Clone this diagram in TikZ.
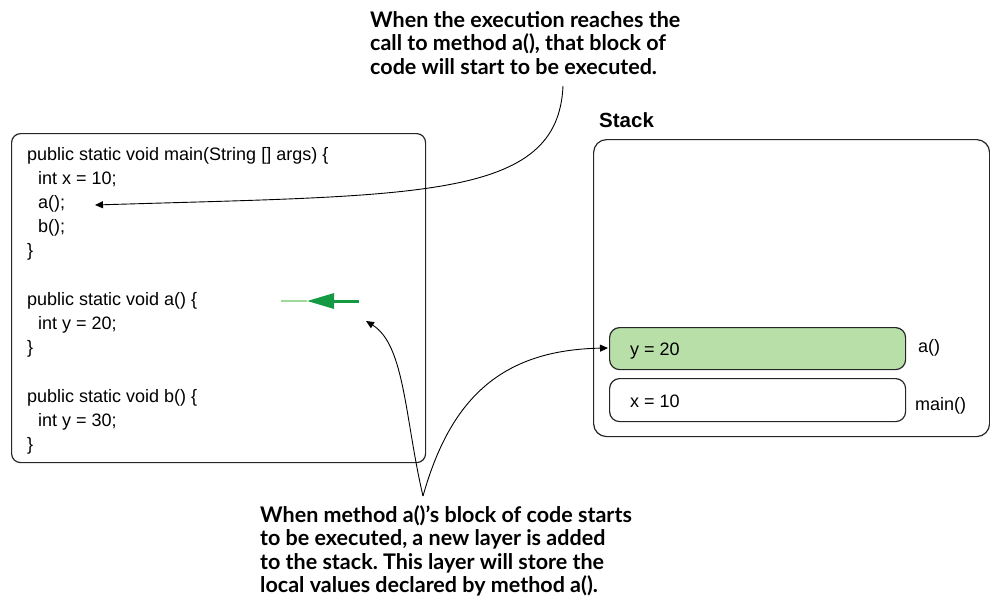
\documentclass[tikz,border=0pt]{standalone}
\usepackage{fontspec}
\setmainfont{Liberation Sans}
\newfontfamily\notefont{Lato}
\usetikzlibrary{arrows.meta}
\definecolor{boxgreen}{HTML}{B9DFA9}
\definecolor{darkgreen}{HTML}{139A43}
\definecolor{palegreen}{HTML}{9ED89B}
\frenchspacing
\tikzset{
  codeline/.style={anchor=base west, inner sep=0pt, font=\fontsize{18}{22}\selectfont},
  noteline/.style={anchor=base west, inner sep=0pt, font=\notefont\bfseries\fontsize{21.5}{25}\selectfont},
  frame/.style={draw=black!85, line width=1.2pt, rounded corners=9pt},
  layer/.style={draw=black!85, line width=1.2pt, rounded corners=10pt},
  conn/.style={draw=black, line width=0.9pt, -{Triangle[length=8pt,width=7pt]}},
}
\begin{document}
\begin{tikzpicture}[x=1pt,y=-1pt]
\useasboundingbox (0,0) rectangle (990,606);
% code box
\node[frame, minimum width=414pt, minimum height=329pt, anchor=north west, inner sep=0pt] (code) at (11,133) {};
\foreach \i/\x/\y/\t in {1/27/160/{public static void main(String [] args) \{},
  2/38/184/{int x = 10;}, 3/38/208/{a();}, 4/38/232/{b();}, 5/27/256/{\}},
  6/27/305/{public static void a() \{}, 7/38/329/{int y = 20;}, 8/27/353/{\}},
  9/27/402/{public static void b() \{}, 10/38/426/{int y = 30;}, 11/27/450/{\}}}
  \node[codeline] (l\i) at (\x,\y) {\t};
% stack
\node[anchor=base west, inner sep=0pt, font=\bfseries\fontsize{20.5}{24}\selectfont] (stacklabel) at (599,127) {Stack};
\node[frame, rounded corners=13pt, minimum width=396pt, minimum height=297pt, anchor=north west, inner sep=0pt] (stack) at (593,139) {};
\node[layer, fill=boxgreen, minimum width=296pt, minimum height=42pt, anchor=north west, inner sep=0pt] (ly) at (609,327) {};
\node[layer, fill=white, minimum width=296pt, minimum height=43pt, anchor=north west, inner sep=0pt] (lx) at (609,378) {};
\node[codeline] (ty) at (630,355) {y = 20};
\node[codeline] (tx) at (630,407) {x = 10};
\node[codeline] (ta) at (918,352) {a()};
\node[codeline] (tm) at (915,410) {main()};
% notes
\foreach \i/\y/\t in {1/27/{When the execution reaches the}, 2/50.5/{call to method a(), that block of}, 3/74/{code will start to be executed.}}
  \node[noteline] (n\i) at (370,\y) {\t};
\foreach \i/\y/\t in {1/522/{When method a()’s block of code starts}, 2/545.5/{to be executed, a new layer is added}, 3/569/{to the stack. This layer will store the}, 4/592.5/{local values declared by method a().}}
  \node[noteline] (m\i) at (260,\y) {\t};
% connector coordinates
\coordinate (s1) at (563,86);
\coordinate (e1) at (95,205);
\coordinate (v) at (423,496);
\coordinate (e2) at (366,321);
\coordinate (e3) at (608,348);
\draw[conn] (s1) .. controls (558,200) and (420,195) .. (e1);
\draw[conn] (v) .. controls (405,420) and (405,345) .. (e2);
\draw[conn] (v) .. controls (450,400) and (500,350) .. (e3);
% green arrow
\coordinate (g1) at (281,301);
\coordinate (g2) at (307,301);
\coordinate (g3) at (359,301);
\draw[palegreen, line width=2pt] (g1) -- (g2);
\draw[darkgreen, line width=3pt, -{Triangle[length=27pt,width=15pt]}] (g3) -- (g2);
\end{tikzpicture}
\end{document}
